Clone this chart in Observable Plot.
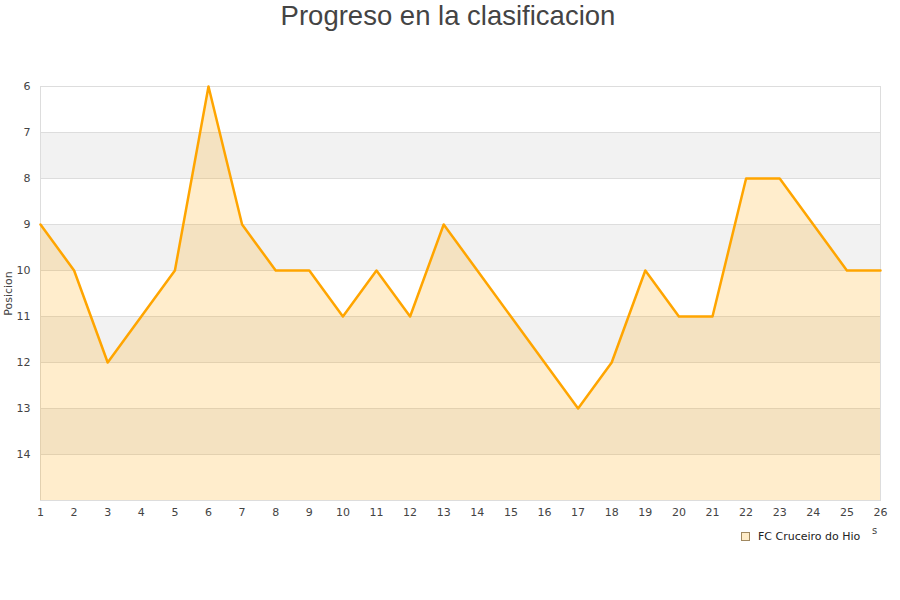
<!DOCTYPE html>
<html><head><meta charset="utf-8">
<script src="https://cdn.jsdelivr.net/npm/d3@7"></script>
<script src="https://cdn.jsdelivr.net/npm/@observablehq/plot@0.6"></script>
<style>
body{margin:0;background:#fff;font-family:"DejaVu Sans",sans-serif;}
#wrap{position:relative;width:900px;height:600px;}
#title{position:absolute;top:0;left:0;width:896px;text-align:center;font-family:"Liberation Sans",Arial,sans-serif;font-size:27.5px;color:#444;line-height:32px;}
#legend{position:absolute;left:741px;top:530px;font-size:11px;color:#222;display:flex;align-items:center;}
#legend .sw{width:7px;height:7px;border:1px solid #a08860;background:#ffecc8;margin-right:8px;}
#xs{position:absolute;left:872px;top:525px;font-size:10px;color:#444;}
</style></head>
<body><div id="wrap"><div id="title">Progreso en la clasificacion</div><div id="chart"></div>
<div id="legend"><div class="sw"></div>FC Cruceiro do Hio</div><div id="xs">s</div></div>
<script>
const rounds = [1,2,3,4,5,6,7,8,9,10,11,12,13,14,15,16,17,18,19,20,21,22,23,24,25,26];
const positions = [9,10,12,11,10,6,9,10,10,11,10,11,9,10,11,12,13,12,10,11,11,8,8,9,10,10];
const yTicks = [6,7,8,9,10,11,12,13,14];
const bandStarts = [7,9,11,13];
const team = "FC Cruceiro do Hio";

const data = rounds.map((r,i)=>({r, p: positions[i]}));
const chart = Plot.plot({
  width: 900, height: 600,
  marginTop: 86, marginBottom: 100, marginLeft: 40, marginRight: 20,
  style: {fontFamily: "DejaVu Sans, sans-serif", fontSize: "11px", color: "#444", background: "transparent"},
  x: {domain: [1,26], ticks: rounds, tickSize: 0, tickPadding: 8, label: null, tickFormat: d => d},
  y: {domain: [6,15], reverse: true, ticks: yTicks, tickSize: 0, tickPadding: 10, label: "Posicion", labelArrow: "none", labelAnchor: "center", labelOffset: 36, tickFormat: d=>d},
  marks: [
    Plot.rect(bandStarts, {x1: 1, x2: 26, y1: d=>d, y2: d=>d+1, fill: "#f2f2f2"}),
    Plot.gridY(yTicks, {stroke: "#ddd", strokeOpacity: 1}),
    Plot.frame({stroke: "#ddd"}),
    Plot.areaY(data, {x: "r", y1: 15, y2: "p", fill: "orange", fillOpacity: 0.2}),
    Plot.lineY(data, {x: "r", y: "p", stroke: "orange", strokeWidth: 2.5})
  ]
});
document.getElementById("chart").appendChild(chart);
</script></body></html>
